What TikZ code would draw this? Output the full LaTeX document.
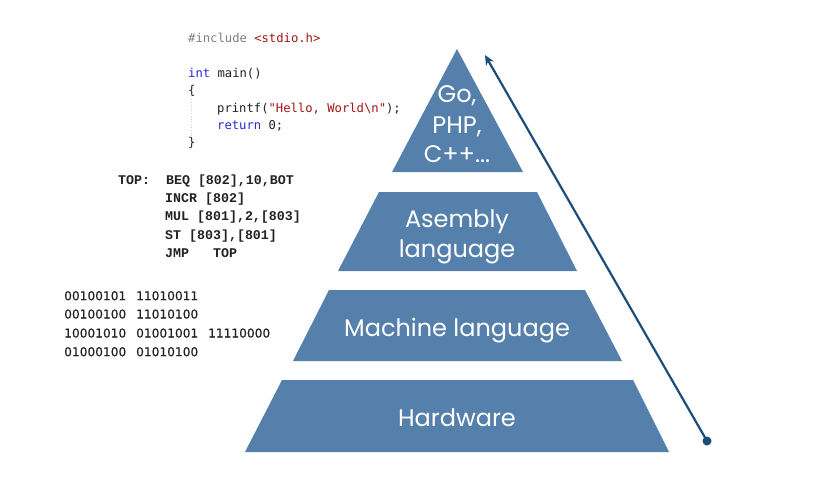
\documentclass[tikz,border=0pt]{standalone}
\usepackage{fontspec}
\usetikzlibrary{arrows.meta}
\newfontfamily\labfont{Poppins}
\newfontfamily\codefont{DejaVu Sans Mono}
\newfontfamily\asmfont{Liberation Mono}
\newfontfamily\binfont[FakeBold=0.4]{DejaVu Sans}
\definecolor{pyr}{HTML}{5580AB}
\definecolor{arr}{HTML}{1B4F7A}
\definecolor{kw}{HTML}{2B2BD0}
\definecolor{str}{HTML}{A31515}
\definecolor{pre}{HTML}{808080}
\definecolor{txt}{HTML}{222222}
\newcommand{\bsp}{\hspace{9.9pt}}
\tikzset{
  level/.style={fill=pyr, draw=none},
  lab/.style={text=white, anchor=base, inner sep=0pt, font=\labfont\fontsize{24}{29}\selectfont},
  codeline/.style={anchor=base west, inner sep=0pt, text=txt, font=\codefont\fontsize{12.2}{14}\selectfont},
  asmline/.style={anchor=base west, inner sep=0pt, text=txt, font=\asmfont\bfseries\fontsize{13.3}{16}\selectfont},
  binline/.style={anchor=base west, inner sep=0pt, text=txt, font=\binfont\fontsize{12.2}{16}\selectfont},
  uparrow/.style={draw=arr, line width=2.2pt, -{Stealth[length=10pt,width=9pt]}}
}
\begin{document}
\begin{tikzpicture}[x=1pt,y=-1pt]
\useasboundingbox[fill=white] (0,0) rectangle (817,477);
% pyramid levels
\fill[level] (457,49) -- (523,172) -- (392,172) -- cycle;
\fill[level] (379,192) -- (537,192) -- (577,271) -- (338,271) -- cycle;
\fill[level] (329,290) -- (585,290) -- (622,361) -- (293,361) -- cycle;
\fill[level] (282,380) -- (633,380) -- (669,452) -- (245,452) -- cycle;
% labels
\node[lab] (go) at (457,102) {Go,};
\node[lab] (php) at (457,133) {PHP,};
\node[lab] (cpp) at (457,162.5) {C++...};
\node[lab] (asm1) at (457,227.3) {Asembly};
\node[lab] (asm2) at (457,257.3) {language};
\node[lab] (mach) at (457,336) {Machine language};
\node[lab] (hw) at (457,426.5) {Hardware};
% arrow
\coordinate (a0) at (707,441);
\coordinate (a1) at (485,55);
\draw[uparrow] (a0) -- (a1);
\fill[arr] (a0) circle (4.5);
% C code
\node[codeline] (c1) at (188,42) {\textcolor{pre}{\#include} \textcolor{str}{<stdio.h>}};
\node[codeline] (c2) at (188,77.5) {\textcolor{kw}{int} main()};
\node[codeline] (c3) at (188,94.8) {\{};
\node[codeline] (c4) at (217,112) {printf(\textcolor{str}{"Hello, World\textbackslash n"});};
\node[codeline] (c5) at (217,129.3) {\textcolor{kw}{return} 0;};
\node[codeline] (c6) at (188,146.6) {\}};
\draw[gray!40, dotted, line width=0.8pt] (191,99) -- (191,136);
% assembly
\node[asmline] (s1) at (118,184.5) {TOP:\ \ BEQ [802],10,BOT};
\node[asmline] (s2) at (165,202.7) {INCR [802]};
\node[asmline] (s3) at (165,220.9) {MUL [801],2,[803]};
\node[asmline] (s4) at (165,239.1) {ST [803],[801]};
\node[asmline] (s5) at (165,257.3) {JMP\ \ \ TOP};
% binary
\node[binline] (b1) at (64,300.2) {00100101\bsp 11010011};
\node[binline] (b2) at (64,318.5) {00100100\bsp 11010100};
\node[binline] (b3) at (64,337.5) {10001010\bsp 01001001\bsp 11110000};
\node[binline] (b4) at (64,356.2) {01000100\bsp 01010100};
\end{tikzpicture}
\end{document}
